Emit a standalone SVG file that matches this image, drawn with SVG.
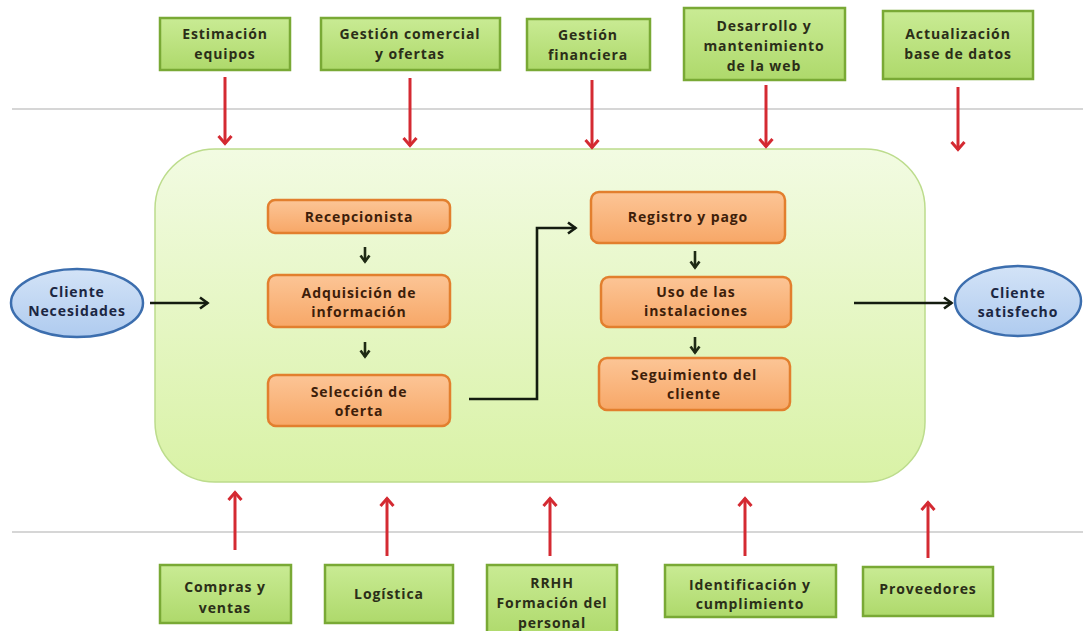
<svg xmlns="http://www.w3.org/2000/svg" width="1083" height="631" viewBox="0 0 1083 631">
<style>
  .t { font-family: "Open Sans", "Liberation Sans", sans-serif; font-weight: 700; font-size: 14px; letter-spacing: 0.9px; text-anchor: middle; }
  .tg { fill: #2b2e18; }
  .to { fill: #3e1e0a; }
  .te { fill: #1b2642; }
  .gbox { fill: url(#gGreen); stroke: #79a935; stroke-width: 2.5; }
  .obox { fill: url(#gOrange); stroke: #e27f2e; stroke-width: 2.5; }
  .ell { fill: url(#gBlue); stroke: #3c6eae; stroke-width: 2.5; }
  .red { stroke: #d42a32; stroke-width: 3; fill: none; marker-end: url(#mRed); }
  .blk { stroke: #141c10; stroke-width: 2.6; fill: none; marker-end: url(#mBlk); }
  .sm { stroke: #1e2a14; stroke-width: 2.6; fill: none; marker-end: url(#mSm); }
  .sep { stroke: #c9c9c9; stroke-width: 1.5; }
</style>
<defs>
  <linearGradient id="gGreen" x1="0" y1="0" x2="0" y2="1">
    <stop offset="0" stop-color="#c9eb94"/>
    <stop offset="1" stop-color="#aed96b"/>
  </linearGradient>
  <linearGradient id="gOrange" x1="0" y1="0" x2="0" y2="1">
    <stop offset="0" stop-color="#fcc596"/>
    <stop offset="1" stop-color="#f7a767"/>
  </linearGradient>
  <linearGradient id="gBlue" x1="0" y1="0" x2="0" y2="1">
    <stop offset="0" stop-color="#d3e3f7"/>
    <stop offset="1" stop-color="#afcbef"/>
  </linearGradient>
  <linearGradient id="gBig" x1="0" y1="0" x2="0" y2="1">
    <stop offset="0" stop-color="#f2fbe2"/>
    <stop offset="1" stop-color="#d9f2a6"/>
  </linearGradient>
  <marker id="mRed" viewBox="0 0 12 16" refX="10" refY="8" markerWidth="12" markerHeight="16" markerUnits="userSpaceOnUse" orient="auto">
    <path d="M2,1.5 L9.5,8 L2,14.5" fill="none" stroke="#d42a32" stroke-width="3"/>
  </marker>
  <marker id="mBlk" viewBox="0 0 12 14" refX="10" refY="7" markerWidth="12" markerHeight="14" markerUnits="userSpaceOnUse" orient="auto">
    <path d="M2,1.5 L9.5,7 L2,12.5" fill="none" stroke="#141c10" stroke-width="2.6"/>
  </marker>
  <marker id="mSm" viewBox="0 0 10 12" refX="8.5" refY="6" markerWidth="10" markerHeight="12" markerUnits="userSpaceOnUse" orient="auto">
    <path d="M2,1.5 L8,6 L2,10.5" fill="none" stroke="#1e2a14" stroke-width="2.6"/>
  </marker>
</defs>

<rect width="1083" height="631" fill="#ffffff"/>

<g id="separators">
  <line class="sep" x1="12" y1="109" x2="1083" y2="109"/>
  <line class="sep" x1="12" y1="532" x2="1083" y2="532"/>
</g>

<g id="proceso">
  <rect x="155" y="149" width="770" height="333" rx="60" ry="60" fill="url(#gBig)" stroke="#bcdc8c" stroke-width="1.5"/>
</g>

<g id="estimacion">
  <rect class="gbox" x="160" y="18" width="130" height="52"/>
  <text class="t tg" x="225" y="39">Estimación</text>
  <text class="t tg" x="225" y="59">equipos</text>
</g>
<g id="gestion-comercial">
  <rect class="gbox" x="321" y="18" width="179" height="52"/>
  <text class="t tg" x="410" y="39">Gestión comercial</text>
  <text class="t tg" x="410" y="59">y ofertas</text>
</g>
<g id="gestion-financiera">
  <rect class="gbox" x="527" y="19" width="123" height="51"/>
  <text class="t tg" x="588" y="40">Gestión</text>
  <text class="t tg" x="588" y="60">financiera</text>
</g>
<g id="desarrollo-web">
  <rect class="gbox" x="684" y="8" width="161" height="72"/>
  <text class="t tg" x="764" y="31">Desarrollo y</text>
  <text class="t tg" x="764" y="51">mantenimiento</text>
  <text class="t tg" x="764" y="71">de la web</text>
</g>
<g id="actualizacion">
  <rect class="gbox" x="883" y="11" width="150" height="68"/>
  <text class="t tg" x="958" y="39">Actualización</text>
  <text class="t tg" x="958" y="59">base de datos</text>
</g>

<g id="compras">
  <rect class="gbox" x="160" y="565" width="131" height="58"/>
  <text class="t tg" x="225" y="592">Compras y</text>
  <text class="t tg" x="225" y="613">ventas</text>
</g>
<g id="logistica">
  <rect class="gbox" x="325" y="565" width="128" height="58"/>
  <text class="t tg" x="389" y="599">Logística</text>
</g>
<g id="rrhh">
  <rect class="gbox" x="487" y="565" width="130" height="72"/>
  <text class="t tg" x="552" y="588">RRHH</text>
  <text class="t tg" x="552" y="608">Formación del</text>
  <text class="t tg" x="552" y="628">personal</text>
</g>
<g id="identificacion">
  <rect class="gbox" x="665" y="565" width="171" height="52"/>
  <text class="t tg" x="750" y="590">Identificación y</text>
  <text class="t tg" x="750" y="609">cumplimiento</text>
</g>
<g id="proveedores">
  <rect class="gbox" x="863" y="567" width="130" height="49"/>
  <text class="t tg" x="928" y="594">Proveedores</text>
</g>

<g id="cliente-necesidades">
  <ellipse class="ell" cx="77" cy="303" rx="66" ry="34"/>
  <text class="t te" x="77" y="297">Cliente</text>
  <text class="t te" x="77" y="316">Necesidades</text>
</g>
<g id="cliente-satisfecho">
  <ellipse class="ell" cx="1018" cy="301" rx="63" ry="35"/>
  <text class="t te" x="1018" y="298">Cliente</text>
  <text class="t te" x="1018" y="317">satisfecho</text>
</g>

<g id="recepcionista">
  <rect class="obox" x="268" y="200" width="182" height="33" rx="7"/>
  <text class="t to" x="359" y="222">Recepcionista</text>
</g>
<g id="adquisicion">
  <rect class="obox" x="268" y="275" width="182" height="52" rx="8"/>
  <text class="t to" x="359" y="298">Adquisición de</text>
  <text class="t to" x="359" y="317">información</text>
</g>
<g id="seleccion">
  <rect class="obox" x="268" y="375" width="182" height="51" rx="8"/>
  <text class="t to" x="359" y="397">Selección de</text>
  <text class="t to" x="359" y="416">oferta</text>
</g>
<g id="registro">
  <rect class="obox" x="591" y="192" width="194" height="51" rx="8"/>
  <text class="t to" x="688" y="222">Registro y pago</text>
</g>
<g id="uso">
  <rect class="obox" x="601" y="277" width="190" height="50" rx="8"/>
  <text class="t to" x="696" y="297">Uso de las</text>
  <text class="t to" x="696" y="316">instalaciones</text>
</g>
<g id="seguimiento">
  <rect class="obox" x="599" y="358" width="191" height="52" rx="8"/>
  <text class="t to" x="694" y="380">Seguimiento del</text>
  <text class="t to" x="694" y="399">cliente</text>
</g>

<g id="connectors">
  <line class="red" x1="225" y1="77" x2="225" y2="144"/>
  <line class="red" x1="410" y1="78" x2="410" y2="146"/>
  <line class="red" x1="592" y1="80" x2="592" y2="148"/>
  <line class="red" x1="766" y1="85" x2="766" y2="147"/>
  <line class="red" x1="958" y1="87" x2="958" y2="150"/>

  <line class="red" x1="235" y1="550" x2="235" y2="492"/>
  <line class="red" x1="387" y1="556" x2="387" y2="498"/>
  <line class="red" x1="550" y1="556" x2="550" y2="498"/>
  <line class="red" x1="745" y1="556" x2="745" y2="498"/>
  <line class="red" x1="928" y1="558" x2="928" y2="502"/>

  <line class="blk" x1="150" y1="303" x2="208" y2="303"/>
  <line class="blk" x1="854" y1="303" x2="952" y2="303"/>
  <polyline class="blk" points="469,399 537,399 537,228 576,228"/>

  <line class="sm" x1="365" y1="247" x2="365" y2="262"/>
  <line class="sm" x1="365" y1="342" x2="365" y2="357"/>
  <line class="sm" x1="695" y1="251" x2="695" y2="268"/>
  <line class="sm" x1="695" y1="337" x2="695" y2="353"/>
</g>
</svg>
